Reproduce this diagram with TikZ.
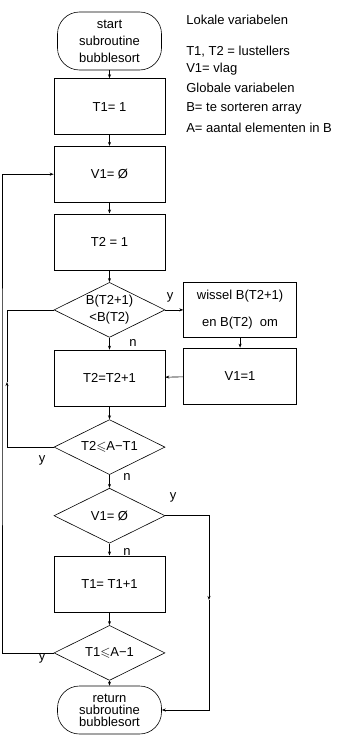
\documentclass[tikz,border=0pt]{standalone}
\usepackage{amssymb}
\usepackage{fontspec}
\setmainfont{Liberation Sans}
\usetikzlibrary{arrows.meta,positioning,shapes.geometric}

\begin{document}
\begin{tikzpicture}[
    x=1pt, y=-1pt, line width=0.6pt,
    font=\fontsize{13}{17}\selectfont,
    box/.style={rectangle, draw, minimum height=56pt, minimum width=111pt, inner sep=0pt, align=center},
    term/.style={rectangle, rounded corners=22pt, draw, minimum width=104pt, minimum height=58pt, inner sep=0pt, align=center},
    cond/.style={diamond, draw, aspect=2, minimum width=111pt, minimum height=55pt, inner sep=0pt, align=center},
    arr/.style={-{Stealth[length=4pt,width=3pt]}},
    lbl/.style={inner sep=0pt},
    note/.style={anchor=west, inner sep=0pt},
    node distance=11pt
]
  \useasboundingbox (0,0) rectangle (351,736);

  % main column
  \node[term] (start) at (109.5,41) {start\\subroutine\\bubblesort};
  \node[box, below=8pt of start] (t1een) {T1= 1};
  \node[box, below=of t1een] (v1nul) {V1= Ø};
  \node[box, below=of v1nul] (t2een) {T2 = 1};
  \node[cond, below=12pt of t2een] (bcmp) {B(T2+1)\\<B(T2)};
  \node[box, below=12pt of bcmp] (t2inc) {T2=T2+1};
  \node[cond, below=13pt of t2inc] (t2le) {T2$\leqslant$A−T1};
  \node[cond, below=13pt of t2le] (v1cmp) {V1= Ø};
  \node[box, below=12pt of v1cmp] (t1inc) {T1= T1+1};
  \node[cond, below=13pt of t1inc] (t1le) {T1$\leqslant$A−1};
  \node[term, minimum height=48pt, font=\fontsize{13}{12}\selectfont, below=5pt of t1le] (ret) {return\\subroutine\\bubblesort};

  % swap branch
  \node[box, minimum width=113pt, minimum height=55pt, right=18pt of bcmp] (wissel) {wissel B(T2+1)\\[10pt]en B(T2)\ \ om};
  \node[box, minimum width=113pt, below=10pt of wissel] (v1een) {V1=1};

  % legend
  \node[note] (lokaal) at (186,20) {Lokale variabelen};
  \node[note] (lust) at (186,52) {T1, T2 = lustellers};
  \node[note] (vlag) at (186,69) {V1= vlag};
  \node[note] (globaal) at (186,88) {Globale variabelen};
  \node[note] (arrB) at (186,108) {B= te sorteren array};
  \node[note] (aantA) at (186,128) {A= aantal elementen in B};

  \draw[arr] (start) -- (t1een);
  \draw[arr] (t1een) -- (v1nul);
  \draw[arr] (v1nul) -- (t2een);
  \draw[arr] (t2een) -- (bcmp);
  \draw[arr] (bcmp) -- (t2inc);
  \draw[arr] (t2inc) -- (t2le);
  \draw[arr] (t2le) -- (v1cmp);
  \draw[arr] (v1cmp) -- (t1inc);
  \draw[arr] (t1inc) -- (t1le);
  \draw[arr] (t1le) -- (ret);

  \draw[arr] (bcmp.east) -- (bcmp.east -| wissel.west);
  \draw[arr] (wissel) -- (v1een);
  \draw[arr] (v1een) -- (t2inc);

  % loops
  \coordinate (lus2) at (7,382);
  \draw[arr] (t2le.west) -| (lus2);
  \draw (lus2) |- (bcmp.west);
  \coordinate (lus1) at (2,400);
  \draw[arr] (t1le.west) -| (lus1) |- (v1nul.west);
  \coordinate (lusv) at (209,600);
  \draw[arr] (v1cmp.east) -| (lusv);
  \draw[arr] (lusv) |- (ret.east);

  % branch labels
  \node[lbl] (ja1) at (170,297) {y};
  \node[lbl] (nee1) at (133,343) {n};
  \node[lbl] (ja2) at (42,460) {y};
  \node[lbl] (nee2) at (127,477) {n};
  \node[lbl] (ja3) at (173,497) {y};
  \node[lbl] (nee3) at (127,552) {n};
  \node[lbl] (ja4) at (42,658) {y};
\end{tikzpicture}
\end{document}
